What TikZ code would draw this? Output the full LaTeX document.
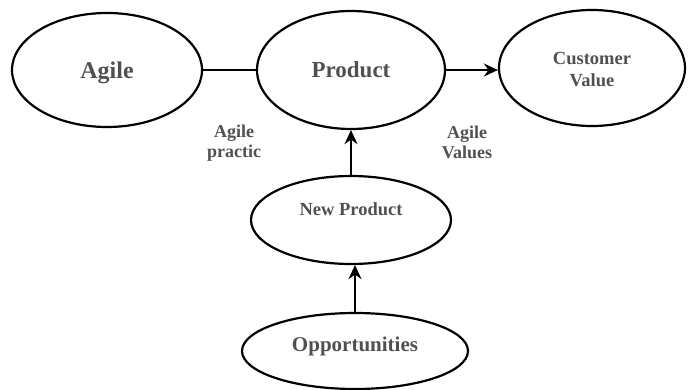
\documentclass[tikz,border=0pt]{standalone}
\usepackage{fontspec}
\setmainfont{Liberation Serif}
\usetikzlibrary{shapes.geometric,arrows.meta}
\definecolor{txt}{HTML}{505050}
\begin{document}
\begin{tikzpicture}[x=1pt,y=-1pt,
  ell/.style={draw=black,line width=2.2pt,ellipse,inner sep=0pt},
  lbl/.style={text=txt,font=\bfseries,align=center,inner sep=0pt},
  conn/.style={line width=2.2pt},
  arr/.style={line width=2.2pt,-{Stealth[length=14pt,width=13pt,inset=4.5pt]}}]
\useasboundingbox (0,0) rectangle (693,390);
\node[ell,minimum width=190pt,minimum height=114pt,
  label={[lbl,font=\fontsize{24}{26}\selectfont\bfseries,yshift=-3pt]center:Agile}] (agile) at (107,70) {};
\node[ell,minimum width=188pt,minimum height=118pt,
  label={[lbl,font=\fontsize{23}{25}\selectfont\bfseries,yshift=0pt]center:Product}] (product) at (351,70) {};
\node[ell,minimum width=186pt,minimum height=116pt,
  label={[lbl,font=\fontsize{18.5}{22}\selectfont\bfseries,yshift=-2pt]center:Customer\\Value}] (cust) at (592,68) {};
\node[ell,minimum width=200pt,minimum height=88pt,
  label={[lbl,font=\fontsize{18.5}{22}\selectfont\bfseries,yshift=11pt]center:New Product}] (np) at (351,220) {};
\node[ell,minimum width=226pt,minimum height=76pt,
  label={[lbl,font=\fontsize{21}{24}\selectfont\bfseries,yshift=5pt]center:Opportunities}] (opp) at (355,351) {};
\node[lbl,font=\fontsize{18}{20}\selectfont\bfseries] (ap) at (234,143) {Agile\\practic};
\node[lbl,font=\fontsize{18}{20}\selectfont\bfseries] (av) at (467,142) {Agile\\Values};
\draw[conn] (agile.east) -- (product.west);
\draw[arr] (product.east) -- (product.east -| cust.west);
\draw[arr] (np.north) -- (product.south);
\draw[arr] (opp.north) -- (np.south -| opp.north);
\end{tikzpicture}
\end{document}
